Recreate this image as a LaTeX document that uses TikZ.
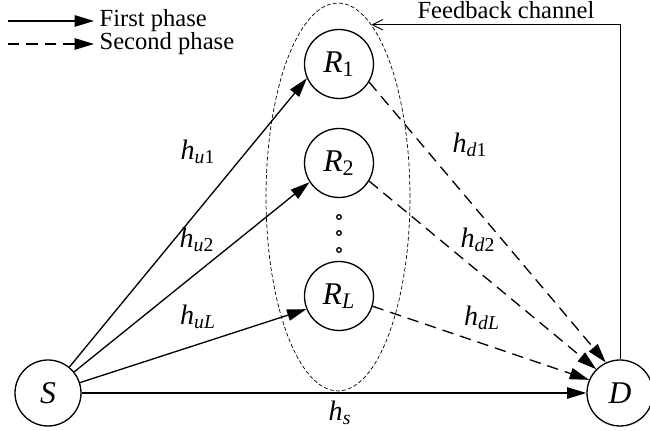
\documentclass[tikz,border=0pt]{standalone}
\usepackage{fontspec}
\setmainfont{Liberation Serif}
\usetikzlibrary{arrows.meta, positioning, shapes.geometric}

\begin{document}
\begin{tikzpicture}[x=0.02cm, y=-0.02cm,
    station/.style={circle, draw, line width=0.75pt, minimum size=1.38cm, inner sep=0pt, font=\fontsize{18}{18}\selectfont},
    firstph/.style={line width=0.75pt, -{Triangle[length=11pt, width=6.5pt]}},
    secondph/.style={firstph, dash pattern=on 6.5pt off 4pt},
    gain/.style={font=\fontsize{16}{16}\selectfont, inner sep=0pt},
    legendtxt/.style={font=\fontsize{14}{15}\selectfont, anchor=west, inner sep=3pt},
]
    \useasboundingbox (0,0) rectangle (650,431);

    % source, destination and the relays
    \node[station, minimum size=1.32cm] (S) at (48,393) {\textit{S}};
    \node[station, minimum size=1.32cm] (D) at (620,393) {\textit{D}};
    \node[station] (R1) at (339,64) {\textit{R}\textsubscript{1}};
    \node[station] (R2) at (339,163) {\textit{R}\textsubscript{2}};
    \node[station] (RL) at (339,296) {\textit{R}\textsubscript{\textit{L}}};
    \foreach \y in {217,233,250}
        \draw[line width=0.75pt] (339,\y) circle (1.3pt);

    % relay group
    \node[draw, ellipse, line width=0.4pt, dash pattern=on 2.2pt off 1.3pt,
        minimum width=2.88cm, minimum height=7.76cm, inner sep=0pt] (grp) at (338,197) {};

    % First phase
    \draw[firstph] (S) -- (R1.204);
    \draw[firstph] (S) -- (R2.213);
    \draw[firstph] (S) -- (RL.202);
    \draw[firstph] (S) -- (D);

    % Second phase
    \draw[secondph] (R1.-31) -- (D.115);
    \draw[secondph] (R2.-31) -- (D.135);
    \draw[secondph] (RL.-17) -- (D.157);

    % channel gains
    \node[gain] (hu1) at (198,152) {\textit{h}\textsubscript{\textit{u}1}};
    \node[gain] (hu2) at (197,240) {\textit{h}\textsubscript{\textit{u}2}};
    \node[gain] (huL) at (198,317) {\textit{h}\textsubscript{\textit{uL}}};
    \node[gain] (hd1) at (470,145) {\textit{h}\textsubscript{\textit{d}1}};
    \node[gain] (hd2) at (478,240) {\textit{h}\textsubscript{\textit{d}2}};
    \node[gain] (hdL) at (482,318) {\textit{h}\textsubscript{\textit{dL}}};
    \node[gain] (hs) at (340,413) {\textit{h}\textsubscript{\textit{s}}};

    % Feedback from D back to the relays
    \draw[line width=0.5pt, -{Straight Barb[length=6pt, width=6pt]}] (D.north) |- (grp.79);
    \node[legendtxt, anchor=center, inner sep=0pt] (fbtxt) at (506,10) {Feedback channel};

    % legend
    \node[legendtxt] (lfirst) at (94,21) {First phase};
    \node[legendtxt] (lsecond) at (94,44) {Second phase};
    \coordinate (f0) at (8,21);
    \coordinate (s0) at (8,44);
    \draw[firstph] (f0) -- (lfirst);
    \draw[secondph] (s0) -- (lsecond);
\end{tikzpicture}
\end{document}
